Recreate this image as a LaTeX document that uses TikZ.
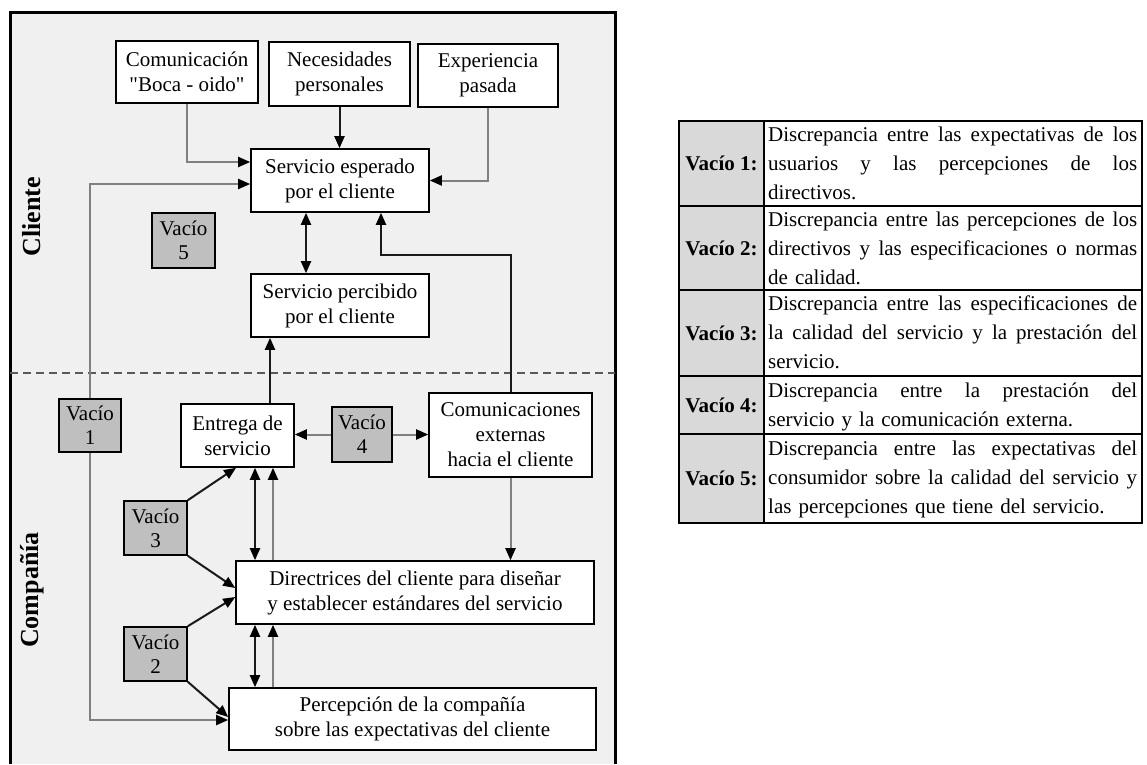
\documentclass[tikz,border=0pt]{standalone}
\usepackage{fontspec}
\setmainfont{Liberation Serif}
\usetikzlibrary{arrows.meta}

\definecolor{panel}{HTML}{F0F0F0}
\definecolor{gapfill}{HTML}{BFBFBF}
\definecolor{headfill}{HTML}{D9D9D9}
\definecolor{lnk}{HTML}{808080}
\definecolor{ink}{HTML}{1A1A1A}
\definecolor{dashc}{HTML}{5A5A5A}

% one justified line of a table cell: the spaces share the spare width
\newcommand{\fullline}[1]{\leavevmode\hbox to 369pt{\spaceskip=\fontdimen2\font plus 1fil\relax #1}\\}

\tikzset{
  >={Triangle[length=12pt,width=10pt,color=black]},
  box/.style={draw=black, line width=1.6pt, fill=white, inner sep=0pt,
              align=center, font=\fontsize{21}{25}\selectfont},
  gapbox/.style={box, fill=gapfill, font=\fontsize{21}{24}\selectfont},
  gline/.style={draw=lnk, line width=2pt, ->},
  bline/.style={draw=ink, line width=2pt, ->},
  bboth/.style={draw=ink, line width=2pt, <->},
  side/.style={rotate=90, inner sep=0pt, font=\fontsize{26}{26}\selectfont\bfseries},
  rowlab/.style={inner sep=0pt, font=\fontsize{21}{25}\selectfont\bfseries},
  rowtext/.style={anchor=north west, inner sep=0pt, text width=369pt, align=left,
                  font=\fontsize{21}{29}\selectfont}
}

\begin{document}
\begin{tikzpicture}[x=1pt,y=-1pt]
\useasboundingbox (0,0) rectangle (1147,764);
\fill[white] (0,0) rectangle (1147,764);

% ---------- model panel ----------
\fill[panel] (10,12.5) rectangle (615,764);
\draw[line width=3pt] (10,764) -- (10,12.5) -- (615,12.5) -- (615,764);

\coordinate (dl) at (10,373);
\coordinate (dr) at (615,373);
\draw[dashc, line width=1.5pt, dash pattern=on 8pt off 5pt] (dl) -- (dr);

\node[side] (cli) at (32,217) {Cliente};
\node[side] (cia) at (32,590) {Compañía};

% client side
\node[box, minimum width=142pt, minimum height=62pt] (com) at (187,72) {Comunicación\\\textquotedbl Boca - oido\textquotedbl};
\node[box, minimum width=141pt, minimum height=64pt] (nec) at (339.5,74) {Necesidades\\personales};
\node[box, minimum width=140pt, minimum height=63pt] (exp) at (488,75.5) {Experiencia\\pasada};
\node[box, minimum width=178pt, minimum height=63pt] (esp) at (340,180.5) {Servicio esperado\\por el cliente};
\node[box, minimum width=178pt, minimum height=63pt] (per) at (340,305.5) {Servicio percibido\\por el cliente};
\node[gapbox, minimum width=63pt, minimum height=55pt] (v5) at (183.5,240.5) {Vacío\\5};

% company side
\node[box, minimum width=113pt, minimum height=63pt] (ent) at (237.5,435.5) {Entrega de\\servicio};
\node[box, minimum width=163pt, minimum height=84pt] (cext) at (510.5,435) {Comunicaciones\\externas\\hacia el cliente};
\node[box, minimum width=358pt, minimum height=63pt] (dir) at (415,592.5) {Directrices del cliente para diseñar\\y establecer estándares del servicio};
\node[box, minimum width=367pt, minimum height=62pt] (pcp) at (412.5,719) {Percepción de la compañía\\sobre las expectativas del cliente};

% gap 1 connector runs behind its box
\node[gapbox, minimum width=62pt, minimum height=53pt] (v1) at (90,425.5) {};
\draw[gline] (v1.north) |- ([yshift=-3.5pt]esp.west);
\draw[gline] (v1.south) |- ([yshift=-1pt]pcp.west);
\node[gapbox, minimum width=62pt, minimum height=53pt] at (v1) {Vacío\\1};

\node[gapbox, minimum width=60pt, minimum height=55pt] (v4) at (362,434.5) {Vacío\\4};
\node[gapbox, minimum width=63pt, minimum height=54pt] (v3) at (155.5,528) {Vacío\\3};
\node[gapbox, minimum width=63pt, minimum height=54pt] (v2) at (155.5,654) {Vacío\\2};

% inputs to the expected service
\draw[gline] (com.south) |- ([yshift=18.5pt]esp.west);
\draw[bline] (nec.south) -- (nec.south |- esp.north);
\draw[gline] (exp.south) |- (esp.east);

% expected vs perceived
\draw[bboth] ([xshift=-34pt]esp.south) -- ([xshift=-34pt]per.north);

% external communications feed the expectation
\draw[bline] (cext.north) -- ++(0,-137) -| ([xshift=41pt]esp.south);

% delivery reaches the customer
\draw[bline] ([xshift=32.5pt]ent.north) -- ([xshift=32.5pt]ent.north |- per.south);

% gap 4
\draw[gline] (v4.west) -- (v4.west -| ent.east);
\draw[gline] (v4.east) -- (v4.east -| cext.west);

% gaps 3 and 2
\draw[bline] (v3.north east) -- ([xshift=-1.5pt]ent.south);
\draw[bline] (v3.south east) -- ([yshift=4.5pt]dir.west);
\draw[bline] (v2.north east) -- ([yshift=-4.5pt]dir.west);
\draw[bline] (v2.south east) -- ([yshift=2pt]pcp.west);

% links between company stages
\draw[bboth] ([xshift=17.5pt]ent.south) -- ([xshift=17.5pt]ent.south |- dir.north);
\draw[gline] ([xshift=35.5pt]ent.south |- dir.north) -- ([xshift=35.5pt]ent.south);
\draw[bboth] ([xshift=-160pt]dir.south) -- ([xshift=-160pt]dir.south |- pcp.north);
\draw[gline] ([xshift=-142pt]dir.south |- pcp.north) -- ([xshift=-142pt]dir.south);
\draw[gline] (cext.south) -- (cext.south |- dir.north);

% ---------- gap definitions table ----------
\fill[headfill] (679,121) rectangle (764,523);
\draw[line width=2pt] (679,121) rectangle (1142,523);
\draw[line width=2pt] (764,121) -- (764,523);
\foreach \yy in {206,290,376,434} \draw[line width=2pt] (679,\yy) -- (1142,\yy);

\node[rowlab] (l1) at (721.5,163.5) {Vacío 1:};
\node[rowlab] (l2) at (721.5,248) {Vacío 2:};
\node[rowlab] (l3) at (721.5,333) {Vacío 3:};
\node[rowlab] (l4) at (721.5,405) {Vacío 4:};
\node[rowlab] (l5) at (721.5,478.5) {Vacío 5:};

\node[rowtext] (t1) at (768,126) {\noindent\rule{0pt}{15pt}\fullline{Discrepancia entre las expectativas de los}\fullline{usuarios y las percepciones de los}directivos.};
\node[rowtext] (t2) at (768,211) {\noindent\rule{0pt}{15pt}\fullline{Discrepancia entre las percepciones de los}\fullline{directivos y las especificaciones o normas}de calidad.};
\node[rowtext] (t3) at (768,295) {\noindent\rule{0pt}{15pt}\fullline{Discrepancia entre las especificaciones de}\fullline{la calidad del servicio y la prestación del}servicio.};
\node[rowtext] (t4) at (768,382) {\noindent\rule{0pt}{15pt}\fullline{Discrepancia entre la prestación del}servicio y la comunicación externa.};
\node[rowtext] (t5) at (768,440) {\noindent\rule{0pt}{15pt}\fullline{Discrepancia entre las expectativas del}\fullline{consumidor sobre la calidad del servicio y}las percepciones que tiene del servicio.};
\end{tikzpicture}
\end{document}
